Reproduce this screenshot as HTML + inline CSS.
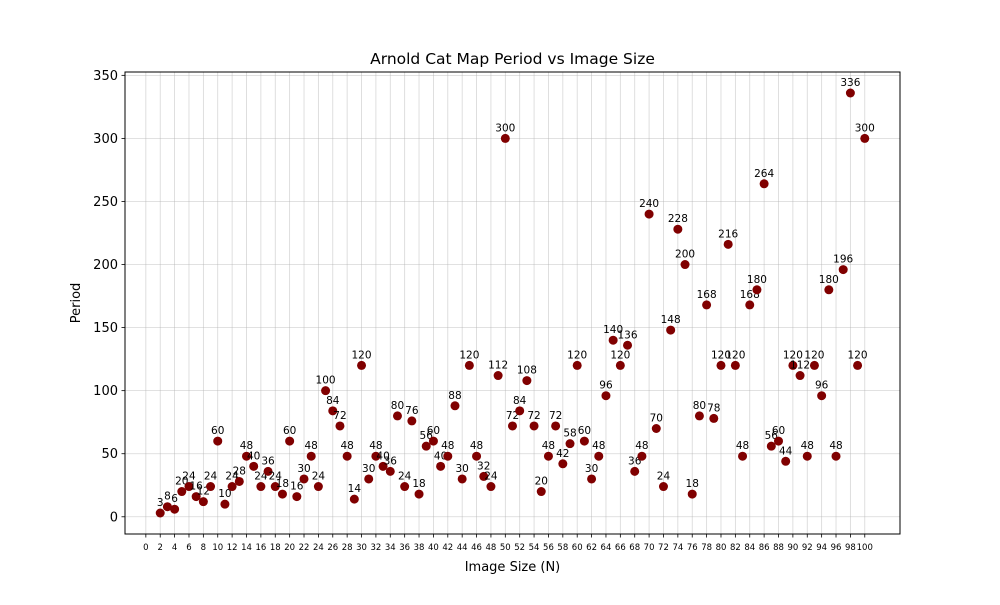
<!DOCTYPE html>
<html><head><meta charset="utf-8"><style>
body{margin:0;background:#fff;}
svg text{font-family:"DejaVu Sans","Liberation Sans",sans-serif;}
</style></head><body>
<svg id="chart" width="1000" height="600" xmlns="http://www.w3.org/2000/svg"></svg>
<script>
const sizes = [];
for (let n = 2; n <= 100; n++) sizes.push(n);
const periods = [3,8,6,20,24,16,12,24,60,10,24,28,48,40,24,36,24,18,60,16,30,48,24,100,84,72,48,14,120,30,48,40,36,80,24,76,18,56,60,40,48,88,30,120,48,32,24,112,300,72,84,108,72,20,48,72,42,58,120,60,30,48,96,140,120,136,36,48,240,70,24,148,228,200,18,80,168,78,120,216,120,48,168,180,264,56,60,44,120,112,48,120,96,180,48,196,336,120,300];
const xTicks = [];
for (let t = 0; t <= 100; t += 2) xTicks.push(t);
const yTicks = [0,50,100,150,200,250,300,350];

const L=125,R=900,T=72,B=534;
const xmin=-2.9,xmax=104.9,ymin=-13.65,ymax=352.65;
const xs=v=>L+(v-xmin)/(xmax-xmin)*(R-L);
const ys=v=>B-(v-ymin)/(ymax-ymin)*(B-T);
const svg=document.getElementById('chart');
const NS='http://www.w3.org/2000/svg';
function mk(tag,attrs,txt){const e=document.createElementNS(NS,tag);for(const k in attrs)e.setAttribute(k,attrs[k]);if(txt!==undefined)e.textContent=txt;svg.appendChild(e);return e;}

xTicks.forEach(t=>{const x=xs(t);
 const g=mk('line',{x1:x,x2:x,y1:T,y2:B,stroke:'#b0b0b0','stroke-opacity':0.5,'stroke-width':0.8});
 
 const tk=mk('line',{x1:x,x2:x,y1:B,y2:B+3.5,stroke:'#000','stroke-width':0.8});
 
 const lb=mk('text',{x:x,y:B+16,'font-size':8.5,'text-anchor':'middle'},String(t));
 
});
yTicks.forEach(t=>{const y=ys(t);
 const g=mk('line',{x1:L,x2:R,y1:y,y2:y,stroke:'#b0b0b0','stroke-opacity':0.5,'stroke-width':0.8});
 
 const tk=mk('line',{x1:L-3.5,x2:L,y1:y,y2:y,stroke:'#000','stroke-width':0.8});
 
 const lb=mk('text',{x:L-7,y:y+4.5,'font-size':13,'text-anchor':'end'},String(t));
 
});
sizes.forEach((n,i)=>{const x=xs(n),y=ys(periods[i]);
 const c=mk('circle',{cx:x,cy:y,r:4.5,fill:'#800000'});
 
 const lb=mk('text',{x:x,y:y-7,'font-size':10.5,'text-anchor':'middle'},String(periods[i]));
 
});
const fr=mk('rect',{x:L,y:T,width:R-L,height:B-T,fill:'none',stroke:'#000','stroke-width':1});

const ti=mk('text',{x:(L+R)/2,y:64,'font-size':15.5,'text-anchor':'middle'},'Arnold Cat Map Period vs Image Size');

const xt=mk('text',{x:(L+R)/2,y:571,'font-size':13,'text-anchor':'middle'},'Image Size (N)');

const yt=mk('text',{x:0,y:0,'font-size':13,'text-anchor':'middle',transform:'translate(80,303) rotate(-90)'},'Period');

</script>
</body></html>
